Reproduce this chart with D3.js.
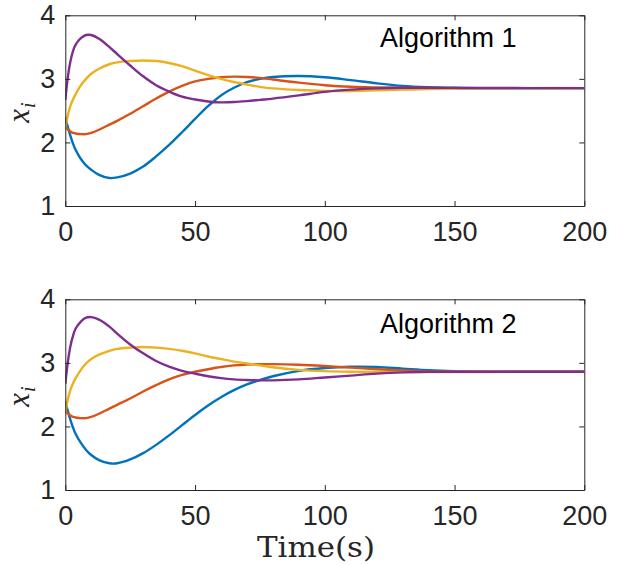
<!DOCTYPE html>
<html>
<head>
<meta charset="utf-8">
<script src="https://cdn.jsdelivr.net/npm/d3@7"></script>
<style>
  html, body { margin: 0; padding: 0; background: #fff; }
  svg { display: block; }
</style>
</head>
<body>
<svg id="chart" width="618" height="565"></svg>
<script>
// ---- Data ----
const time = [0, 1, 2, 3, 4, 6, 8, 10, 13, 17, 20, 25, 30, 35, 40, 45, 50, 55, 60, 65, 70, 75, 80, 90, 100, 110, 120, 130, 140, 150, 160, 180, 200];

const alg1Blue   = [2.40, 2.24, 2.10, 1.98, 1.88, 1.74, 1.64, 1.57, 1.49, 1.44, 1.45, 1.51, 1.62, 1.78, 1.96, 2.16, 2.37, 2.57, 2.74, 2.86, 2.95, 3.00, 3.03, 3.045, 3.025, 2.98, 2.93, 2.89, 2.87, 2.86, 2.855, 2.855, 2.855];
const alg1Orange = [2.25, 2.20, 2.17, 2.15, 2.14, 2.13, 2.13, 2.15, 2.20, 2.28, 2.34, 2.45, 2.57, 2.69, 2.80, 2.89, 2.96, 3.00, 3.025, 3.035, 3.03, 3.015, 2.99, 2.94, 2.90, 2.875, 2.865, 2.86, 2.857, 2.855, 2.855, 2.855, 2.855];
const alg1Yellow = [2.20, 2.43, 2.58, 2.68, 2.76, 2.90, 3.00, 3.08, 3.16, 3.23, 3.26, 3.28, 3.29, 3.28, 3.25, 3.20, 3.13, 3.06, 3.00, 2.95, 2.91, 2.875, 2.85, 2.825, 2.81, 2.81, 2.82, 2.83, 2.84, 2.845, 2.85, 2.855, 2.855];
const alg1Purple = [2.67, 3.03, 3.28, 3.44, 3.54, 3.64, 3.69, 3.69, 3.63, 3.50, 3.39, 3.21, 3.04, 2.90, 2.80, 2.72, 2.675, 2.645, 2.63, 2.635, 2.65, 2.67, 2.69, 2.74, 2.795, 2.83, 2.85, 2.86, 2.86, 2.858, 2.856, 2.855, 2.855];

const alg2Blue   = [2.40, 2.24, 2.10, 1.98, 1.88, 1.74, 1.63, 1.55, 1.47, 1.42, 1.42, 1.48, 1.58, 1.71, 1.86, 2.02, 2.18, 2.33, 2.46, 2.57, 2.66, 2.73, 2.79, 2.875, 2.92, 2.94, 2.935, 2.91, 2.885, 2.87, 2.862, 2.86, 2.86];
const alg2Orange = [2.25, 2.20, 2.17, 2.15, 2.14, 2.13, 2.13, 2.15, 2.20, 2.28, 2.34, 2.44, 2.55, 2.65, 2.74, 2.81, 2.86, 2.90, 2.935, 2.96, 2.975, 2.98, 2.98, 2.97, 2.95, 2.925, 2.90, 2.88, 2.865, 2.86, 2.86, 2.86, 2.86];
const alg2Yellow = [2.20, 2.43, 2.58, 2.68, 2.76, 2.89, 2.99, 3.06, 3.13, 3.19, 3.22, 3.24, 3.25, 3.24, 3.22, 3.19, 3.15, 3.10, 3.06, 3.02, 2.99, 2.96, 2.93, 2.89, 2.87, 2.86, 2.857, 2.855, 2.855, 2.856, 2.857, 2.858, 2.858];
const alg2Purple = [2.67, 3.02, 3.27, 3.43, 3.54, 3.65, 3.71, 3.72, 3.68, 3.57, 3.46, 3.29, 3.15, 3.03, 2.94, 2.875, 2.83, 2.79, 2.76, 2.74, 2.73, 2.725, 2.725, 2.74, 2.77, 2.80, 2.83, 2.85, 2.86, 2.86, 2.86, 2.86, 2.86];

const xTicks = [0, 50, 100, 150, 200];
const yTicks = [1, 2, 3, 4];
const panelTitles = ["Algorithm 1", "Algorithm 2"];
const seriesColors = ["#0072BD", "#D95319", "#EDB120", "#7E2F8E"];
const panels = [
  [alg1Blue, alg1Orange, alg1Yellow, alg1Purple],
  [alg2Blue, alg2Orange, alg2Yellow, alg2Purple]
];

// ---- Layout ----
const svg = d3.select("#chart");
const axisColor = "#262626";
const left = 65.3, right = 584.3;
const panelBoxes = [
  { top: 15.3, bottom: 206, titleY: 47 },
  { top: 299.3, bottom: 490, titleY: 333.3 }
];
const tickFont = "Liberation Sans, Arial, Helvetica, sans-serif";

const x = d3.scaleLinear().domain([0, 200]).range([left, right]);

panels.forEach((series, pi) => {
  const box = panelBoxes[pi];
  const y = d3.scaleLinear().domain([1, 4]).range([box.bottom, box.top]);
  const g = svg.append("g");

  const line = d3.line()
    .x((d, i) => x(time[i]))
    .y(d => y(d))
    .curve(d3.curveCatmullRom.alpha(0.5));

  const clipId = "clip" + pi;
  svg.append("clipPath").attr("id", clipId)
    .append("rect").attr("x", left).attr("y", box.top)
    .attr("width", right - left).attr("height", box.bottom - box.top);

  const lines = g.append("g").attr("clip-path", `url(#${clipId})`);
  series.forEach((vals, si) => {
    lines.append("path")
      .datum(vals)
      .attr("fill", "none")
      .attr("stroke", seriesColors[si])
      .attr("stroke-width", 2.4)
      .attr("stroke-linejoin", "round")
      .attr("d", line);
  });

  // Axes (inward ticks, box)
  const fmt = d3.format("d");
  const bottomAxis = d3.axisBottom(x).tickValues(xTicks).tickFormat(fmt).tickSizeInner(-5).tickSizeOuter(0).tickPadding(16);
  const topAxis = d3.axisTop(x).tickValues(xTicks).tickSizeInner(-5).tickSizeOuter(0).tickFormat("");
  const leftAxis = d3.axisLeft(y).tickValues(yTicks).tickFormat(fmt).tickSizeInner(-5).tickSizeOuter(0).tickPadding(10);
  const rightAxis = d3.axisRight(y).tickValues(yTicks).tickSizeInner(-5).tickSizeOuter(0).tickFormat("");

  const gb = g.append("g").attr("transform", `translate(0,${box.bottom})`).call(bottomAxis);
  const gt = g.append("g").attr("transform", `translate(0,${box.top})`).call(topAxis);
  const gl = g.append("g").attr("transform", `translate(${left},0)`).call(leftAxis);
  const gr = g.append("g").attr("transform", `translate(${right},0)`).call(rightAxis);
  [gb, gt, gl, gr].forEach(a => {
    a.select(".domain").attr("stroke", axisColor).attr("stroke-width", 1);
    a.selectAll(".tick line").attr("stroke", axisColor).attr("stroke-width", 1);
    a.selectAll(".tick text").attr("fill", axisColor)
      .style("font-family", tickFont).style("font-size", "27px");
  });

  // y label x_i
  const yl = g.append("text")
    .attr("transform", `translate(29,${(box.top + box.bottom) / 2 + 2}) rotate(-90)`)
    .attr("text-anchor", "middle")
    .style("font-family", "Liberation Serif, 'DejaVu Serif', serif")
    .attr("fill", axisColor);
  yl.append("tspan").style("font-style", "italic").style("font-size", "31px").text("x");
  yl.append("tspan").style("font-style", "italic").style("font-size", "20px").attr("dy", 6).attr("dx", 1).text("i");

  // panel title
  g.append("text")
    .attr("x", 380).attr("y", box.titleY)
    .style("font-family", tickFont).style("font-size", "27px")
    .attr("fill", "#000")
    .text(panelTitles[pi]);
});

// x-axis label
svg.append("text")
  .attr("x", 316).attr("y", 557)
  .attr("text-anchor", "middle")
  .style("font-family", "'DejaVu Serif', 'Liberation Serif', serif")
  .style("font-size", "27px")
  .attr("fill", axisColor)
  .attr("textLength", 118)
  .attr("lengthAdjust", "spacingAndGlyphs")
  .text("Time(s)");
</script>
</body>
</html>
